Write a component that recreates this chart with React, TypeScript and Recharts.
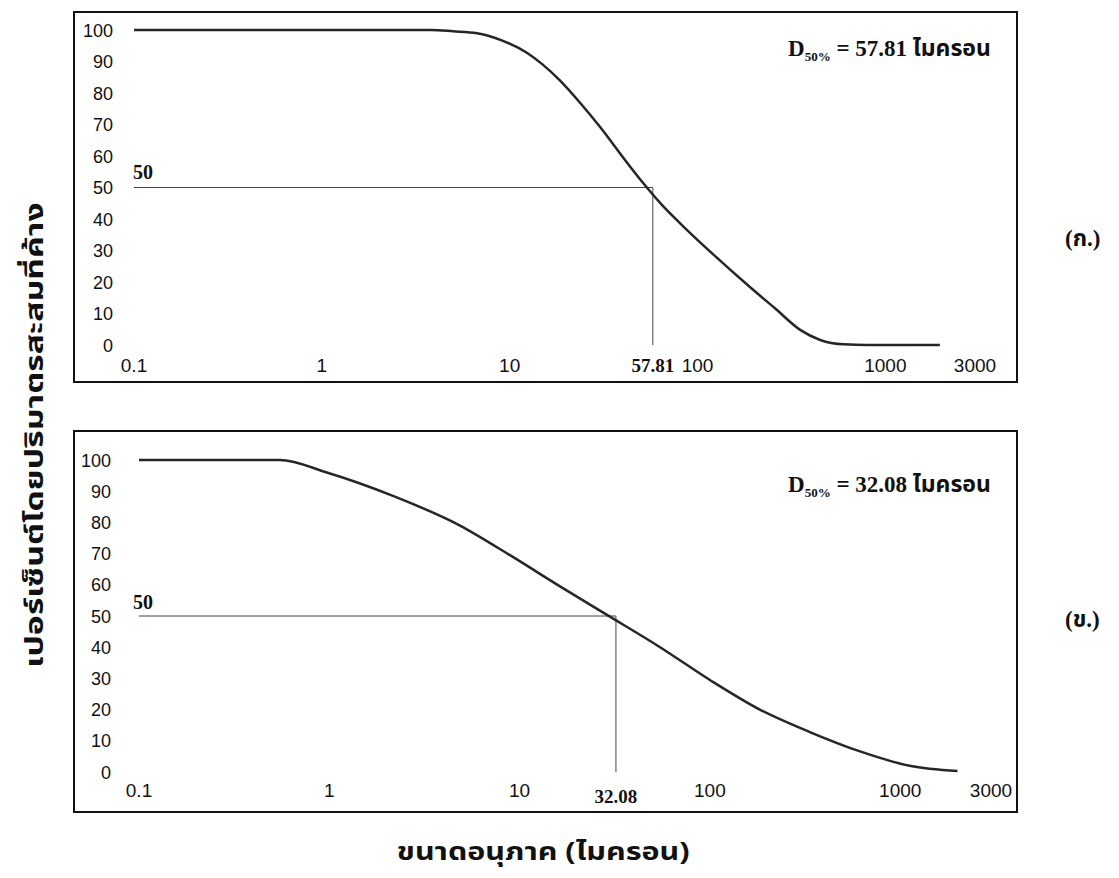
import React from 'react';
import { LineChart, Line, XAxis, YAxis, ReferenceLine } from 'recharts';

// ---- data ----
const topSize = [0.1, 0.3, 1, 2, 3.8, 5, 6.7, 9, 12.4, 15, 18.5, 24, 30, 42, 50.7, 65, 88, 120, 190, 260, 352, 450, 600, 800, 1950];
const topPct = [100, 100, 100, 100, 100, 99.6, 99, 96.8, 92.7, 89, 84, 76.5, 69.5, 58, 51.8, 44.3, 36.5, 29, 18.4, 11.5, 4.8, 1.6, 0.2, 0, 0];
const botSize = [0.1, 0.3, 0.55, 0.97, 2.16, 4.86, 8.9, 16.3, 28.5, 54.7, 100, 183, 335, 615, 1120, 2000];
const botPct = [100, 100, 100, 96, 88.5, 79, 69.5, 59.5, 50.5, 40, 29.5, 20, 12.8, 6.6, 2, 0.3];
const topD50 = 57.81;
const botD50 = 32.08;
const xTicksBase = [0.1, 1, 10, 100, 1000, 3000];
const yTicks = [0, 10, 20, 30, 40, 50, 60, 70, 80, 90, 100];
const yTitle = 'เปอร์เซ็นต์โดยปริมาตรสะสมที่ค้าง';
const xTitle = 'ขนาดอนุภาค (ไมครอน)';
const unit = 'ไมครอน';

const sans = '"Liberation Sans", Arial, sans-serif';
const serif = '"Liberation Serif", "Times New Roman", serif';
const thai = '"Noto Sans Thai", "Noto Sans", "DejaVu Sans", sans-serif';

const toRows = (xs: number[], ys: number[]) => xs.map((x, i) => ({ x, y: ys[i] }));

type PanelProps = {
  left: number; top: number; width: number; height: number;
  margin: { top: number; right: number; left: number; bottom: number };
  sizes: number[]; pcts: number[]; d50: number; d50Dy: number; xDy: number; yGap: number;
};

const Panel = ({ left, top, width, height, margin, sizes, pcts, d50, d50Dy, xDy, yGap }: PanelProps) => {
  const data = toRows(sizes, pcts);
  const ticks = [...xTicksBase, d50].sort((a, b) => a - b);
  const XTick = (p: any) => {
    const v = p.payload.value;
    const isD = v === d50;
    return (
      <text x={p.x} y={p.y + (isD ? d50Dy : xDy)} textAnchor="middle"
        fontFamily={isD ? serif : sans} fontWeight={isD ? 'bold' : 'normal'}
        fontSize={19} fill="#111">{String(v)}</text>
    );
  };
  const YTick = (p: any) => (
    <text x={p.x - yGap} y={p.y + 6.5} textAnchor="end" fontFamily={sans} fontSize={18} fill="#111">
      {String(p.payload.value)}
    </text>
  );
  return (
    <div style={{ position: 'absolute', left, top, width, height }}>
      <LineChart width={width} height={height} data={data}
        margin={{ top: margin.top, right: margin.right, left: 0, bottom: 0 }}>
        <XAxis dataKey="x" type="number" scale="log" domain={[0.1, 3000]} ticks={ticks}
          allowDataOverflow height={margin.bottom} tickSize={0} tickMargin={0}
          axisLine={false} tickLine={false} tick={XTick} interval={0} />
        <YAxis type="number" domain={[0, 100]} ticks={yTicks} width={margin.left}
          tickSize={0} tickMargin={0} axisLine={false} tickLine={false} tick={YTick} interval={0} />
        <ReferenceLine segment={[{ x: 0.1, y: 50 }, { x: d50, y: 50 }]} stroke="#444" strokeWidth={1} />
        <ReferenceLine segment={[{ x: d50, y: 0 }, { x: d50, y: 50 }]} stroke="#444" strokeWidth={1} />
        <Line type="monotone" dataKey="y" stroke="#262626" strokeWidth={2.5} dot={false}
          isAnimationActive={false} />
      </LineChart>
      <div style={{ position: 'absolute', left: 0, top: 0, width, height, boxSizing: 'border-box',
        border: '2px solid #111', pointerEvents: 'none' }} />
    </div>
  );
};

const D50Label = ({ left, top, value }: { left: number; top: number; value: string }) => (
  <div style={{ position: 'absolute', left, top, fontFamily: serif, fontWeight: 'bold', fontSize: 23,
    color: '#111', whiteSpace: 'nowrap', lineHeight: '26px' }}>
    D<sub style={{ fontSize: 13, verticalAlign: '-5px' }}>50%</sub> = {value}{' '}
    <span style={{ fontFamily: thai }}>{unit}</span>
  </div>
);

const Fifty = ({ left, top }: { left: number; top: number }) => (
  <div style={{ position: 'absolute', left, top, fontFamily: serif, fontWeight: 'bold', fontSize: 20,
    color: '#111', lineHeight: '20px' }}>50</div>
);

const Tag = ({ top, text }: { top: number; text: string }) => (
  <div style={{ position: 'absolute', left: 1057, top, fontFamily: `${serif.split(',')[0]}, ${thai}`,
    fontWeight: 'bold', fontSize: 23, color: '#111' }}>{text}</div>
);

export default function App() {
  return (
    <div style={{ position: 'relative', width: 1103, height: 862, background: '#fff' }}>
      <Panel left={65} top={3} width={945} height={372}
        margin={{ top: 19, right: 43, left: 61, bottom: 38 }}
        sizes={topSize} pcts={topPct} d50={topD50} d50Dy={27} xDy={27} yGap={21} />
      <Panel left={65} top={422} width={945} height={383}
        margin={{ top: 30, right: 27, left: 66, bottom: 41 }}
        sizes={botSize} pcts={botPct} d50={botD50} d50Dy={31} xDy={25} yGap={28} />
      <Fifty left={125} top={154} />
      <Fifty left={125} top={584} />
      <D50Label left={780} top={28} value="57.81" />
      <D50Label left={780} top={464} value="32.08" />
      <Tag top={214} text="(ก.)" />
      <Tag top={595} text="(ข.)" />
      <div style={{ position: 'absolute', left: 27, top: 427, width: 0, height: 0 }}>
        <div style={{ position: 'absolute', left: 0, top: 0,
          transform: 'translate(-50%, -50%) rotate(-90deg) scaleX(1.35)',
          fontFamily: thai, fontWeight: 'bold', fontSize: 25, color: '#111', whiteSpace: 'nowrap' }}>
          {yTitle}
        </div>
      </div>
      <div style={{ position: 'absolute', left: 337, top: 825, width: 400, textAlign: 'center',
        fontFamily: thai, fontWeight: 'bold', fontSize: 25, color: '#111',
        transform: 'scaleX(1.22)', transformOrigin: '208px 0' }}>{xTitle}</div>
    </div>
  );
}
